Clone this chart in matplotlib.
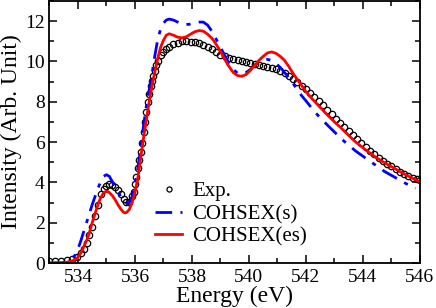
import matplotlib

matplotlib.use('Agg')

import matplotlib.pyplot as plt
from matplotlib.ticker import MultipleLocator

# experimental spectrum (open circles)
exp_e = [533.0, 533.2, 533.4, 533.6, 533.8, 533.95, 534.1, 534.2, 534.3, 534.4,
         534.5, 534.6, 534.7, 534.8, 534.9, 535.0, 535.1, 535.2, 535.3, 535.4,
         535.5, 535.6, 535.7, 535.8, 535.9, 535.95, 536.0, 536.05, 536.1, 536.15,
         536.2, 536.25, 536.3, 536.35, 536.4, 536.45, 536.5, 536.55, 536.6, 536.65,
         536.7, 536.75, 536.8, 536.9, 537.0, 537.1, 537.2, 537.35, 537.5, 537.65,
         537.8, 537.95, 538.1, 538.25, 538.4, 538.55, 538.7, 538.85, 539.0, 539.15,
         539.3, 539.45, 539.6, 539.75, 539.9, 540.05, 540.2, 540.35, 540.5, 540.65,
         540.8, 540.95, 541.1, 541.25, 541.4, 541.55, 541.7, 541.85, 542.0, 542.15,
         542.3, 542.45, 542.6, 542.75, 542.9, 543.05, 543.2, 543.35, 543.5, 543.65,
         543.8, 543.95, 544.1, 544.25, 544.4, 544.55, 544.7, 544.85, 545.0, 545.15,
         545.3, 545.45, 545.6, 545.75, 545.9, 546.0]
exp_i = [0.08, 0.08, 0.1, 0.13, 0.2, 0.3, 0.5, 0.7, 0.97, 1.4,
         1.8, 2.35, 2.9, 3.4, 3.65, 3.8, 3.9, 3.88, 3.78, 3.6,
         3.4, 3.2, 3.05, 3.05, 3.3, 3.5, 3.9, 4.25, 4.7, 5.1,
         5.5, 5.95, 6.5, 7.0, 7.5, 8.0, 8.4, 8.8, 9.05, 9.3,
         9.5, 9.8, 10.0, 10.3, 10.45, 10.6, 10.7, 10.85, 10.92, 11.0,
         11.0, 10.97, 10.95, 10.9, 10.82, 10.72, 10.6, 10.48, 10.33, 10.25,
         10.17, 10.1, 10.05, 10.0, 9.95, 9.9, 9.88, 9.82, 9.76, 9.7,
         9.65, 9.6, 9.52, 9.42, 9.3, 9.15, 8.98, 8.8, 8.65, 8.45,
         8.25, 8.05, 7.85, 7.6, 7.4, 7.15, 6.95, 6.75, 6.55, 6.35,
         6.15, 5.95, 5.75, 5.55, 5.4, 5.22, 5.07, 4.93, 4.8, 4.65,
         4.52, 4.42, 4.32, 4.22, 4.15, 4.1]

# COHSEX(s)
s_e = [533.0, 533.4, 533.6, 533.8, 533.9, 534.0, 534.1, 534.2, 534.3, 534.4,
       534.5, 534.6, 534.7, 534.8, 534.9, 535.0, 535.1, 535.2, 535.3, 535.4,
       535.5, 535.6, 535.7, 535.8, 535.9, 536.0, 536.1, 536.2, 536.3, 536.4,
       536.5, 536.6, 536.7, 536.8, 536.9, 537.0, 537.1, 537.2, 537.35, 537.5,
       537.65, 537.8, 537.95, 538.1, 538.25, 538.4, 538.55, 538.7, 538.85, 539.0,
       539.15, 539.3, 539.45, 539.6, 539.75, 539.9, 540.05, 540.2, 540.35, 540.5,
       540.65, 540.8, 540.95, 541.1, 541.25, 541.4, 541.55, 541.7, 541.85, 542.0,
       542.25, 542.5, 542.75, 543.0, 543.25, 543.5, 543.75, 544.0, 544.25, 544.5,
       544.75, 545.0, 545.25, 545.5, 545.85]
s_i = [0.0, 0.01, 0.05, 0.2, 0.4, 0.7, 1.1, 1.55, 2.0, 2.45,
       2.9, 3.3, 3.7, 4.05, 4.3, 4.38, 4.3, 4.05, 3.8, 3.55,
       3.3, 3.1, 2.97, 3.0, 3.3, 3.9, 4.7, 5.7, 6.8, 7.8,
       8.6, 9.4, 10.3, 11.1, 11.6, 11.9, 12.05, 12.1, 12.05, 11.95,
       11.85, 11.83, 11.85, 11.9, 11.95, 11.95, 11.8, 11.5, 11.1, 10.7,
       10.3, 9.9, 9.6, 9.42, 9.38, 9.45, 9.6, 9.8, 9.95, 10.05,
       10.1, 10.05, 9.9, 9.7, 9.45, 9.2, 8.9, 8.6, 8.3, 8.05,
       7.6, 7.2, 6.85, 6.5, 6.15, 5.85, 5.55, 5.3, 5.05, 4.8,
       4.55, 4.35, 4.15, 3.95, 3.7]

# COHSEX(es)
es_e = [533.0, 533.5, 533.8, 534.0, 534.1, 534.2, 534.3, 534.4, 534.5, 534.6,
        534.7, 534.8, 534.9, 535.0, 535.1, 535.2, 535.3, 535.4, 535.5, 535.6,
        535.65, 535.7, 535.8, 535.9, 536.0, 536.1, 536.2, 536.3, 536.4, 536.5,
        536.6, 536.7, 536.8, 536.9, 537.0, 537.1, 537.2, 537.35, 537.5, 537.65,
        537.8, 537.95, 538.1, 538.25, 538.4, 538.55, 538.7, 538.85, 539.0, 539.15,
        539.3, 539.45, 539.6, 539.75, 539.9, 540.05, 540.2, 540.35, 540.5, 540.65,
        540.8, 540.95, 541.1, 541.25, 541.4, 541.55, 541.7, 541.85, 542.0, 542.25,
        542.5, 542.75, 543.0, 543.25, 543.5, 543.75, 544.0, 544.25, 544.5, 544.75,
        545.0, 545.25, 545.5, 545.75, 546.0]
es_i = [0.0, 0.01, 0.1, 0.28, 0.5, 0.8, 1.1, 1.5, 2.0, 2.45,
        2.9, 3.25, 3.48, 3.57, 3.5, 3.35, 3.15, 2.9, 2.68, 2.52,
        2.49, 2.5, 2.65, 3.0, 3.5, 4.2, 5.2, 6.2, 7.1, 8.0,
        8.8, 9.5, 10.15, 10.7, 11.05, 11.3, 11.37, 11.3, 11.2, 11.17,
        11.22, 11.35, 11.47, 11.53, 11.5, 11.35, 11.15, 10.85, 10.5, 10.1,
        9.75, 9.45, 9.3, 9.26, 9.35, 9.55, 9.8, 10.05, 10.25, 10.42,
        10.47, 10.4, 10.25, 10.05, 9.75, 9.4, 9.1, 8.8, 8.5, 8.1,
        7.72, 7.35, 7.0, 6.68, 6.33, 6.0, 5.72, 5.45, 5.2, 4.98,
        4.78, 4.58, 4.38, 4.2, 4.03]

plt.rcParams['font.family'] = ['Liberation Serif', 'DejaVu Serif']

fig = plt.figure(figsize=(4.36, 3.08), dpi=100)
ax = fig.add_axes([0.1135, 0.146, 0.8495, 0.851])

ax.plot(exp_e, exp_i, 'o', ms=4.6, mfc='none', mec='black', mew=0.9, label='Exp.')
ax.plot(s_e, s_i, color='#0000ff', lw=2, dashes=(6, 3, 1.5, 3), label='COHSEX(s)')
ax.plot(es_e, es_i, color='#ff0000', lw=2, label='COHSEX(es)')

ax.set_xlim(533, 546)
ax.set_ylim(0, 13)
ax.xaxis.set_major_locator(MultipleLocator(2))
ax.xaxis.set_minor_locator(MultipleLocator(1))
ax.yaxis.set_major_locator(MultipleLocator(2))
ax.yaxis.set_minor_locator(MultipleLocator(1))
ax.tick_params(which='both', direction='in', top=True, right=True, labelsize=14, width=1.1)
ax.tick_params(which='major', length=6)
ax.tick_params(which='minor', length=3.5)
ax.tick_params(axis='x', pad=4)
for s in ax.spines.values():
    s.set_linewidth(1.3)

ax.set_xlabel('Energy (eV)', fontsize=17, labelpad=0)
ax.set_ylabel('Intensity (Arb. Unit)', fontsize=17, labelpad=2)

ax.legend(loc='upper left', bbox_to_anchor=(0.257, 0.35), frameon=False, fontsize=15,
          handlelength=1.3, handletextpad=0.5, labelspacing=0.15, borderpad=0,
          markerscale=0.8)

fig.savefig('out.png', dpi=100)
